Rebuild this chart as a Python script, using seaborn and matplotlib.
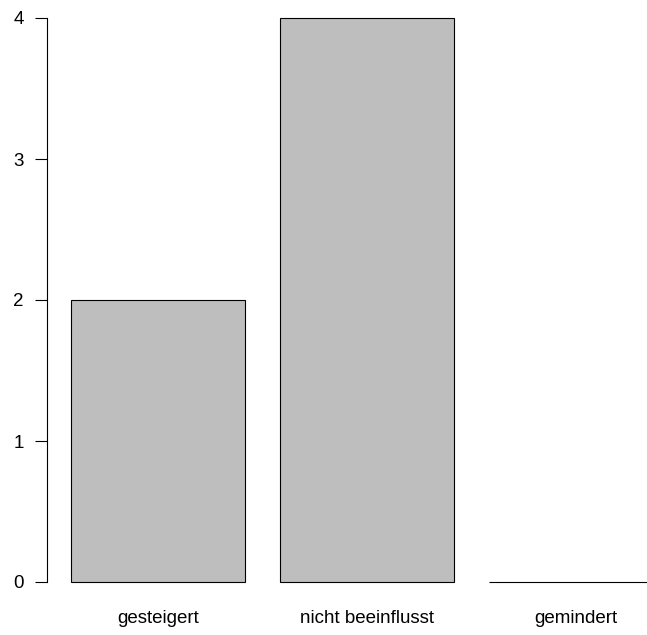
import pandas as pd
import matplotlib
matplotlib.use("Agg")
import matplotlib.pyplot as plt
import seaborn as sns

categories = ["gesteigert", "nicht beeinflusst", "gemindert"]
counts = [2, 4, 0]
y_ticks = [0, 1, 2, 3, 4]

df = pd.DataFrame({"Kategorie": categories, "Anzahl": counts})

sns.set_style("white")
plt.rcParams["font.family"] = ["Liberation Sans", "DejaVu Sans"]

fig = plt.figure(figsize=(6.47, 6.35), dpi=100)
ax = fig.add_axes([47 / 647, 1 - 582 / 635, 1 - 47 / 647, (582 - 18) / 635])

sns.barplot(data=df, x="Kategorie", y="Anzahl", order=categories,
            color="#bebebe", saturation=1, width=0.8333,
            edgecolor="black", linewidth=0.8, ax=ax)
for p in ax.patches:
    p.set_clip_on(False)

ax.set_xlim(-0.532, 2.342)
ax.set_ylim(0, 4)
ax.set_yticks(y_ticks)
ax.set_xlabel("")
ax.set_ylabel("")

for s in ["top", "right", "bottom"]:
    ax.spines[s].set_visible(False)
ax.spines["left"].set_color("black")
ax.spines["left"].set_linewidth(0.8)

ax.tick_params(axis="y", left=True, length=8.6, width=0.8, pad=8,
               labelsize=13.5, colors="black")
ax.tick_params(axis="x", bottom=False, length=0, pad=20, labelsize=13.5,
               colors="black")

fig.savefig("out.png", dpi=100)
plt.close(fig)
